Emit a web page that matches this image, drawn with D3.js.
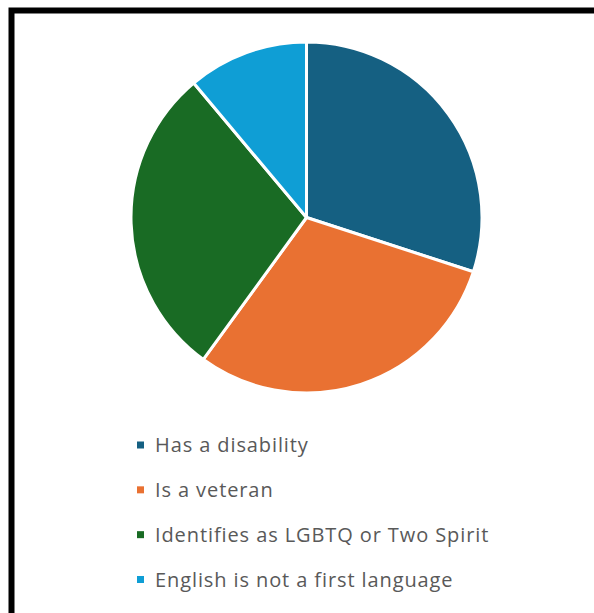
<!DOCTYPE html>
<html>
<head>
<meta charset="utf-8">
<script src="https://cdn.jsdelivr.net/npm/d3@7"></script>
<style>
  html, body { margin: 0; padding: 0; background: #fff; }
  svg { display: block; }
</style>
</head>
<body>
<svg id="chart" width="594" height="613"></svg>
<script>
// Respondent characteristics
const categories = [
  "Has a disability",
  "Is a veteran",
  "Identifies as LGBTQ or Two Spirit",
  "English is not a first language"
];
const counts = [27, 27, 26, 10];
const colors = ["#156082", "#E97132", "#196B24", "#0F9ED5"];

const svg = d3.select("#chart");

// Outer frame
svg.append("rect")
  .attr("x", 11.5).attr("y", 10.5)
  .attr("width", 640).attr("height", 660)
  .attr("fill", "#fff")
  .attr("stroke", "#000")
  .attr("stroke-width", 6);

const data = categories.map((c, i) => ({ label: c, value: counts[i], color: colors[i] }));

const pie = d3.pie().value(d => d.value).sort(null);
const arc = d3.arc().innerRadius(0).outerRadius(175.5);

const g = svg.append("g").attr("transform", "translate(306.5,217.5)");
g.selectAll("path")
  .data(pie(data))
  .join("path")
  .attr("d", arc)
  .attr("fill", d => d.data.color)
  .attr("stroke", "#fff")
  .attr("stroke-width", 3)
  .attr("stroke-linejoin", "round");

// Legend
const legend = svg.append("g").attr("transform", "translate(137,452)");
const rowY = d3.scalePoint().domain(categories).range([0, 134.5]);
const rows = legend.selectAll("g")
  .data(data)
  .join("g")
  .attr("transform", d => `translate(0,${rowY(d.label)})`);
rows.append("rect")
  .attr("x", 0).attr("y", -10.5)
  .attr("width", 7).attr("height", 7)
  .attr("fill", d => d.color);
rows.append("text")
  .attr("x", 18).attr("y", 0)
  .attr("font-family", "'Open Sans', sans-serif")
  .attr("font-size", 20)
  .attr("letter-spacing", 0.9)
  .attr("fill", "#595959")
  .text(d => d.label);
</script>
</body>
</html>
